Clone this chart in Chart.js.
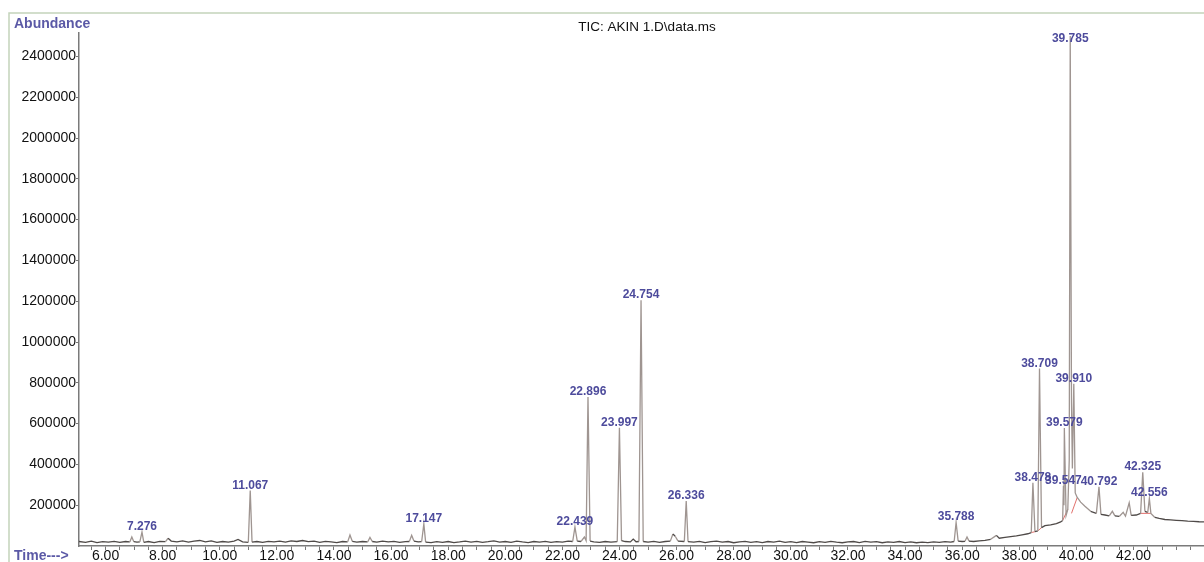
<!DOCTYPE html>
<html>
<head>
<meta charset="utf-8">
<script src="https://cdn.jsdelivr.net/npm/chart.js@4.4.1/dist/chart.umd.min.js"></script>
<style>
html, body { margin: 0; padding: 0; background: #fff; }
</style>
</head>
<body>
<canvas id="ticChart" width="1204" height="562"></canvas>
<script>
// TIC chromatogram (time in min, abundance in counts)
var retentionTime = [
    5.07, 5.3, 5.5, 5.7, 5.9, 6.1, 6.3, 6.5, 6.7, 6.85, 6.92, 6.99, 7.1, 7.2, 7.276, 7.34,
    7.5, 7.7, 7.9, 8.1, 8.19, 8.3, 8.5, 8.7, 8.9, 9.1, 9.3, 9.5, 9.7, 9.9, 10.1, 10.3,
    10.5, 10.64, 10.8, 11.0, 11.067, 11.13, 11.3, 11.5, 11.7, 11.9, 12.1, 12.3, 12.5, 12.7,
    12.9, 13.1, 13.3, 13.5, 13.7, 13.9, 14.1, 14.3, 14.48, 14.56, 14.64, 14.8, 15.0, 15.18,
    15.26, 15.34, 15.5, 15.7, 15.9, 16.1, 16.3, 16.5, 16.64, 16.72, 16.8, 16.95, 17.07, 17.147,
    17.21, 17.4, 17.6, 17.8, 18.0, 18.2, 18.4, 18.6, 18.8, 19.0, 19.2, 19.4, 19.6, 19.8,
    20.0, 20.2, 20.4, 20.6, 20.8, 21.0, 21.2, 21.4, 21.6, 21.8, 22.0, 22.2, 22.36, 22.439,
    22.52, 22.65, 22.77, 22.83, 22.896, 22.97, 23.1, 23.3, 23.5, 23.7, 23.92, 23.997, 24.07, 24.2,
    24.38, 24.48, 24.58, 24.68, 24.754, 24.83, 25.0, 25.2, 25.4, 25.6, 25.78, 25.87, 25.95, 26.05,
    26.27, 26.336, 26.4, 26.6, 26.8, 27.0, 27.2, 27.4, 27.6, 27.8, 28.0, 28.2, 28.4, 28.6,
    28.8, 29.0, 29.2, 29.4, 29.6, 29.8, 30.0, 30.2, 30.4, 30.6, 30.8, 31.0, 31.2, 31.4,
    31.6, 31.8, 32.0, 32.2, 32.4, 32.6, 32.8, 33.0, 33.2, 33.4, 33.6, 33.8, 34.0, 34.2,
    34.4, 34.6, 34.8, 35.0, 35.2, 35.4, 35.6, 35.72, 35.788, 35.86, 36.0, 36.1, 36.17, 36.24,
    36.4, 36.6, 36.8, 37.0, 37.2, 37.3, 37.5, 37.7, 37.9, 38.1, 38.3, 38.42, 38.478, 38.55,
    38.65, 38.709, 38.78, 38.9, 39.1, 39.3, 39.45, 39.52, 39.547, 39.565, 39.579, 39.64, 39.7, 39.75,
    39.785, 39.83, 39.86, 39.91, 39.96, 40.03, 40.15, 40.3, 40.5, 40.7, 40.792, 40.86, 41.0, 41.15,
    41.26, 41.35, 41.5, 41.64, 41.72, 41.85, 41.92, 42.1, 42.25, 42.325, 42.4, 42.5, 42.556, 42.61,
    42.75, 42.9, 43.1, 43.3, 43.5, 43.7, 43.9, 44.1, 44.3, 44.47
];
var abundance = [
    22000, 18000, 24000, 17000, 21000, 19000, 23000, 18000, 22000, 20000, 44000, 21000, 19000, 20000, 68000, 18000,
    22000, 17000, 23000, 21000, 38000, 24000, 20000, 25000, 19000, 24000, 27000, 20000, 25000, 18000, 22000, 19000,
    24000, 32000, 20000, 18000, 272000, 19000, 22000, 18000, 23000, 20000, 24000, 19000, 25000, 22000,
    27000, 21000, 24000, 18000, 23000, 20000, 17000, 22000, 20000, 54000, 23000, 19000, 22000, 20000,
    42000, 22000, 19000, 24000, 20000, 23000, 18000, 21000, 22000, 52000, 24000, 20000, 21000, 108000,
    19000, 17000, 21000, 18000, 22000, 17000, 20000, 24000, 19000, 23000, 18000, 21000, 25000, 19000,
    22000, 18000, 24000, 20000, 17000, 22000, 19000, 23000, 18000, 21000, 19000, 24000, 22000, 93000,
    24000, 22000, 44000, 26000, 730000, 24000, 20000, 18000, 22000, 19000, 21000, 580000, 26000, 22000,
    20000, 34000, 21000, 22000, 1205000, 22000, 19000, 23000, 18000, 22000, 24000, 59000, 48000, 24000,
    22000, 220000, 21000, 19000, 23000, 17000, 21000, 24000, 19000, 22000, 16000, 20000, 23000, 18000,
    21000, 17000, 22000, 19000, 24000, 18000, 21000, 17000, 22000, 19000, 16000, 21000, 18000, 23000,
    19000, 16000, 20000, 22000, 17000, 23000, 19000, 21000, 16000, 20000, 18000, 22000, 17000, 20000,
    16000, 19000, 17000, 20000, 18000, 21000, 19000, 22000, 116000, 24000, 22000, 23000, 44000, 24000,
    22000, 25000, 28000, 33000, 52000, 38000, 42000, 46000, 50000, 55000, 60000, 66000, 310000, 70000,
    74000, 870000, 90000, 100000, 104000, 110000, 118000, 125000, 295000, 200000, 578000, 150000, 180000, 420000,
    2500000, 700000, 380000, 795000, 260000, 238000, 215000, 195000, 170000, 160000, 290000, 155000, 152000, 148000,
    170000, 148000, 145000, 165000, 146000, 212000, 150000, 152000, 160000, 362000, 170000, 165000, 233000, 160000,
    140000, 135000, 130000, 128000, 126000, 124000, 122000, 121000, 119000, 118000
];

// red integration baselines under some peaks (null = gap)
var integrationTime = [38.42, 38.55, null, 38.65, 38.78, null, 39.52, 39.7, null, 39.83, 40.03, null, 42.25, 42.61];
var integrationValue = [66000, 70000, null, 74000, 90000, null, 125000, 180000, null, 160000, 238000, null, 160000, 160000];

var peakLabels = ['7.276', '11.067', '17.147', '22.439', '22.896', '23.997', '24.754', '26.336',
    '35.788', '38.478', '38.709', '39.547', '39.579', '39.785', '39.910', '40.792', '42.325', '42.556'];

var xLabelTicks = [6, 8, 10, 12, 14, 16, 18, 20, 22, 24, 26, 28, 30, 32, 34, 36, 38, 40, 42];
var yLabelTicks = [200000, 400000, 600000, 800000, 1000000, 1200000, 1400000, 1600000,
    1800000, 2000000, 2200000, 2400000];

var labelBlue = '#4d4b9c';
var peakColor = '#9f9591';
var baseColor = '#4f4a48';

var points = retentionTime.map(function(t, i) { return { x: t, y: abundance[i] }; });
var intPoints = integrationTime.map(function(t, i) { return { x: t, y: integrationValue[i] }; });

// frame, header texts and peak labels
var decorPlugin = {
    id: 'decor',
    beforeDraw: function(chart) {
        var c = chart.ctx;
        c.save();
        c.fillStyle = '#fff';
        c.fillRect(0, 0, chart.width, chart.height);
        c.strokeStyle = '#c3d4bb';
        c.lineWidth = 1.5;
        c.beginPath();
        c.moveTo(9, chart.height);
        c.lineTo(9, 13);
        c.lineTo(chart.width, 13);
        c.stroke();
        c.restore();
    },
    afterDatasetsDraw: function(chart) {
        var c = chart.ctx;
        var xs = chart.scales.x, ys = chart.scales.y;
        c.save();
        c.font = 'bold 12px "Liberation Sans", Arial, sans-serif';
        c.fillStyle = labelBlue;
        c.textAlign = 'center';
        c.textBaseline = 'alphabetic';
        peakLabels.forEach(function(lbl) {
            var t = parseFloat(lbl);
            var idx = retentionTime.indexOf(t);
            if (idx < 0) return;
            var px = xs.getPixelForValue(t);
            var py = ys.getPixelForValue(abundance[idx]) - 2;
            py = Math.max(py, chart.chartArea.top + 9);
            c.fillText(lbl, px, py);
        });
        c.restore();
    },
    afterDraw: function(chart) {
        var c = chart.ctx;
        c.save();
        c.textBaseline = 'middle';
        c.font = 'bold 14px "Liberation Sans", Arial, sans-serif';
        c.fillStyle = '#5b59a6';
        c.textAlign = 'left';
        c.fillText('Abundance', 14, 24);
        c.fillText('Time--->', 14, 556);
        c.font = '13.5px "Liberation Sans", Arial, sans-serif';
        c.fillStyle = '#111';
        c.textAlign = 'center';
        c.fillText('TIC: AKIN 1.D\\data.ms', 647, 27);
        c.restore();
    }
};

var ctx = document.getElementById('ticChart').getContext('2d');
var ticChart = new Chart(ctx, {
    type: 'line',
    data: {
        datasets: [{
            label: 'TIC',
            data: points,
            borderWidth: 1.3,
            borderColor: peakColor,
            pointRadius: 0,
            tension: 0,
            segment: {
                borderColor: function(s) {
                    var d = Math.abs(s.p1.parsed.y - s.p0.parsed.y);
                    return d > 15000 ? peakColor : baseColor;
                }
            }
        }, {
            label: 'integration',
            data: intPoints,
            borderWidth: 1,
            borderColor: '#e2706c',
            pointRadius: 0,
            spanGaps: false
        }]
    },
    options: {
        responsive: false,
        animation: false,
        events: [],
        layout: { padding: { top: 33, right: 0, bottom: 0, left: 0 } },
        plugins: {
            legend: { display: false },
            title: { display: false },
            tooltip: { enabled: false }
        },
        scales: {
            x: {
                type: 'linear',
                min: 5.07,
                max: 44.47,
                afterBuildTicks: function(scale) {
                    var ticks = [];
                    for (var v = 5.5; v <= 44.0; v += 0.5) ticks.push({ value: v });
                    scale.ticks = ticks;
                },
                afterFit: function(scale) { scale.height = 16; },
                ticks: {
                    autoSkip: false,
                    maxRotation: 0,
                    padding: -2,
                    color: '#111',
                    font: { family: '"Liberation Sans", Arial, sans-serif', size: 14 },
                    callback: function(v) {
                        return xLabelTicks.indexOf(v) >= 0 ? v.toFixed(2) : '';
                    }
                },
                grid: { drawOnChartArea: false, drawTicks: true, tickLength: 4, color: '#777' },
                border: { display: true, color: '#7a7a7a', width: 1.5 }
            },
            y: {
                type: 'linear',
                min: 0,
                max: 2515000,
                afterBuildTicks: function(scale) {
                    scale.ticks = yLabelTicks.map(function(v) { return { value: v }; });
                },
                afterFit: function(scale) { scale.width = 79; },
                ticks: {
                    padding: 0,
                    color: '#111',
                    font: { family: '"Liberation Sans", Arial, sans-serif', size: 14 },
                    callback: function(v) { return String(v); }
                },
                grid: { drawOnChartArea: false, drawTicks: true, tickLength: 3, color: '#777' },
                border: { display: true, color: '#7a7a7a', width: 1.5 }
            }
        }
    },
    plugins: [decorPlugin]
});
</script>
</body>
</html>
